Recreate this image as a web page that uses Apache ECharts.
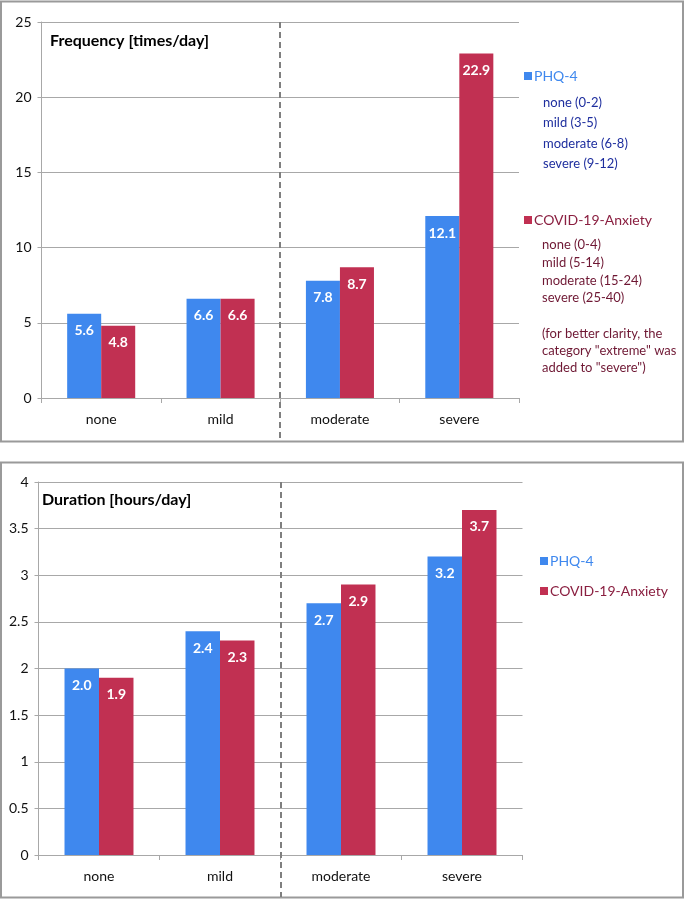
<!DOCTYPE html>
<html>
<head>
<meta charset="utf-8">
<script src="https://cdn.jsdelivr.net/npm/echarts@6/dist/echarts.min.js"></script>
<style>
html,body{margin:0;padding:0;background:#fff;}
#c{width:685px;height:899px;}
</style>
</head>
<body>
<div id="c"></div>
<script>
const categories = ['none', 'mild', 'moderate', 'severe'];
const freqPHQ = [5.6, 6.6, 7.8, 12.1];
const freqCovid = [4.8, 6.6, 8.7, 22.9];
const durPHQ = [2.0, 2.4, 2.7, 3.2];
const durCovid = [1.9, 2.3, 2.9, 3.7];
const freqTicks = { min: 0, max: 25, interval: 5 };
const durTicks = { min: 0, max: 4, interval: 0.5 };
const phqRanges = ['none (0-2)', 'mild (3-5)', 'moderate (6-8)', 'severe (9-12)'];
const covidRanges = ['none (0-4)', 'mild (5-14)', 'moderate (15-24)', 'severe (25-40)'];
const noteLines = ['(for better clarity, the', 'category "extreme" was', 'added to "severe")'];

const BLUE = '#3F88EE';
const RED = '#C13052';
const FONT = 'Lato, "Open Sans", sans-serif';
const GRID_COL = '#A8A8A8';

const chart = echarts.init(document.getElementById('c'), null, { renderer: 'canvas' });

function xAxisCfg(gi) {
  return {
    type: 'category', gridIndex: gi, data: categories,
    axisLine: { lineStyle: { color: GRID_COL, width: 1 } },
    axisTick: { show: true, length: 5, lineStyle: { color: GRID_COL } },
    axisLabel: { color: '#111', fontSize: 14, fontFamily: FONT, margin: 14 }
  };
}
function yAxisCfg(gi, t, fmt) {
  return {
    type: 'value', gridIndex: gi, min: t.min, max: t.max, interval: t.interval,
    axisLine: { show: true, lineStyle: { color: GRID_COL } },
    axisTick: { show: true, length: 4, lineStyle: { color: GRID_COL } },
    splitLine: { lineStyle: { color: GRID_COL, width: 1 } },
    axisLabel: { color: '#111', fontSize: 14, fontFamily: FONT, margin: 10, formatter: fmt }
  };
}
const barLabel = (fmt) => ({
  show: true, position: 'insideTop', distance: 10,
  color: '#fff', fontWeight: 'bold', fontSize: 14, fontFamily: FONT,
  formatter: fmt
});
function barSeries(name, data, gi, color, fmt) {
  return {
    type: 'bar', name: name, data: data, xAxisIndex: gi, yAxisIndex: gi,
    barGap: '0%', barCategoryGap: '43%',
    itemStyle: { color: color },
    label: barLabel(fmt),
    emphasis: { disabled: true }
  };
}
const fmt1 = (p) => p.value.toFixed(1);

const graphics = [
  { type: 'rect', shape: { x: 1, y: 1.5, width: 682, height: 440 }, style: { fill: 'none', stroke: '#9a9a9a', lineWidth: 2 }, z: 0 },
  { type: 'rect', shape: { x: 1, y: 462.5, width: 682, height: 435 }, style: { fill: 'none', stroke: '#9a9a9a', lineWidth: 2 }, z: 0 },
  { type: 'text', x: 50, y: 41, style: { text: 'Frequency [times/day]', font: 'bold 16px ' + FONT, fill: '#000', textVerticalAlign: 'middle' } },
  { type: 'text', x: 42, y: 500, style: { text: 'Duration [hours/day]', font: 'bold 16px ' + FONT, fill: '#000', textVerticalAlign: 'middle' } }
];
phqRanges.forEach((t, i) => graphics.push({ type: 'text', x: 543, y: 103 + i * 20.3, style: { text: t, font: '13px ' + FONT, fill: '#1E2E9E', textVerticalAlign: 'middle' } }));
covidRanges.forEach((t, i) => graphics.push({ type: 'text', x: 542, y: 245 + i * 17.7, style: { text: t, font: '13px ' + FONT, fill: '#6E1733', textVerticalAlign: 'middle' } }));
noteLines.forEach((t, i) => graphics.push({ type: 'text', x: 542, y: 334 + i * 17, style: { text: t, font: '13px ' + FONT, fill: '#6E1733', textVerticalAlign: 'middle' } }));

const option = {
  animation: false,
  textStyle: { fontFamily: FONT },
  grid: [
    { left: 41.5, top: 22, width: 477.5, height: 376 },
    { left: 38.5, top: 482, width: 484, height: 373 }
  ],
  xAxis: [xAxisCfg(0), xAxisCfg(1)],
  yAxis: [yAxisCfg(0, freqTicks), yAxisCfg(1, durTicks)],
  legend: [
    {
      orient: 'vertical', left: 519, top: 64, itemWidth: 8, itemHeight: 8, itemGap: 130,
      icon: 'rect', selectedMode: false,
      data: [
        { name: 'PHQ-4', textStyle: { color: BLUE } },
        { name: 'COVID-19-Anxiety', textStyle: { color: '#8A1F40' } }
      ],
      textStyle: { fontSize: 14, fontFamily: FONT, padding: [0, 0, 0, -3] }
    },
    {
      orient: 'vertical', left: 535, top: 549, itemWidth: 8, itemHeight: 8, itemGap: 16,
      icon: 'rect', selectedMode: false,
      data: [
        { name: 'PHQ-4', textStyle: { color: BLUE } },
        { name: 'COVID-19-Anxiety', textStyle: { color: '#8A1F40' } }
      ],
      textStyle: { fontSize: 14, fontFamily: FONT, padding: [0, 0, 0, -3] }
    }
  ],
  series: [
    barSeries('PHQ-4', freqPHQ, 0, BLUE, fmt1),
    barSeries('COVID-19-Anxiety', freqCovid, 0, RED, fmt1),
    barSeries('PHQ-4', durPHQ, 1, BLUE, fmt1),
    barSeries('COVID-19-Anxiety', durCovid, 1, RED, fmt1)
  ],
  graphic: graphics
};
chart.setOption(option);

// dashed separator between "mild" and "moderate"
function sepX(gi) {
  const a = chart.convertToPixel({ xAxisIndex: gi }, categories[1]);
  const b = chart.convertToPixel({ xAxisIndex: gi }, categories[2]);
  return Math.round((a + b) / 2);
}
const x0 = sepX(0), x1 = sepX(1);
const topY0 = chart.convertToPixel({ yAxisIndex: 0 }, freqTicks.max);
const topY1 = chart.convertToPixel({ yAxisIndex: 1 }, durTicks.max);
graphics.push(
  { type: 'line', shape: { x1: x0, y1: topY0, x2: x0, y2: 441 }, style: { stroke: '#7f7f7f', lineWidth: 2, lineDash: [6, 4] }, z: 10 },
  { type: 'line', shape: { x1: x1, y1: topY1, x2: x1, y2: 897 }, style: { stroke: '#7f7f7f', lineWidth: 2, lineDash: [6, 4] }, z: 10 }
);
chart.setOption({ graphic: graphics });
</script>
</body>
</html>
